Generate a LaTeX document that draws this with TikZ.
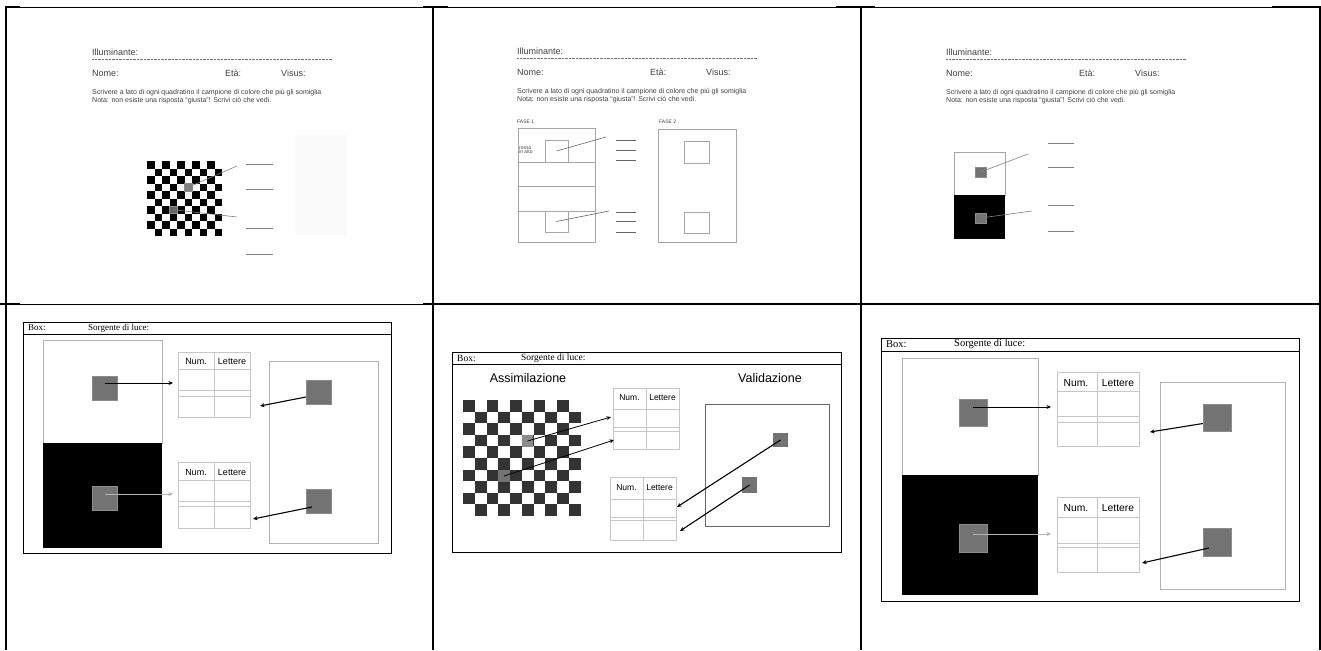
\documentclass[tikz,border=0pt]{standalone}
\usepackage{fontspec}
\setmainfont{Liberation Serif}
\setsansfont{Liberation Sans}
\usetikzlibrary{arrows.meta}
\definecolor{sqgray}{HTML}{737373}
\tikzset{
  formtxt/.style={anchor=west, inner sep=0pt, text=black!75,
                  font=\sffamily\fontsize{9}{10}\selectfont},
  notetxt/.style={formtxt, font=\sffamily\fontsize{7}{8}\selectfont},
  fasetxt/.style={formtxt, font=\sffamily\fontsize{5}{5}\selectfont},
  boxtxt/.style={anchor=west, inner sep=0pt, font=\rmfamily\fontsize{9}{10}\selectfont},
  tabtxt/.style={inner sep=0pt, font=\sffamily\fontsize{9}{10}\selectfont},
  titletxt/.style={inner sep=0pt, font=\sffamily\fontsize{12.5}{14}\selectfont},
  dotline/.style={black!55, line width=0.4pt, dash pattern=on 0.8pt off 0.6pt},
  hint/.style={black!50, line width=0.6pt},
  ansline/.style={black!50, line width=0.6pt},
  thinbox/.style={draw=black!35, line width=0.5pt},
  tabline/.style={draw=black!22, line width=0.6pt},
  gsq/.style={rectangle, fill=sqgray, draw=black!45, line width=0.2pt, inner sep=0pt},
  pipe/.style={-{Stealth[length=4.5pt, width=4pt]}, line width=0.8pt, draw=black},
  pipelight/.style={pipe, draw=black!30},
  slant/.style={pipe, line width=1.1pt},
}
\newcommand{\formhead}[3]{%
  \node[formtxt] (#1ill) at (#2,#3) {Illuminante:};
  \draw[dotline] (#2,#3+7.5) -- (#2+240,#3+7.5);
  \node[formtxt] (#1nome) at (#2,#3+21.5) {Nome:};
  \node[formtxt] (#1eta) at (#2+133,#3+21.5) {Età:};
  \node[formtxt] (#1vis) at (#2+189,#3+21.5) {Visus:};
  \node[notetxt] (#1scr) at (#2,#3+41) {Scrivere a lato di ogni quadratino il campione di colore che più gli somiglia};
  \node[notetxt] (#1nota) at (#2,#3+49) {Nota: non esiste una risposta “giusta”! Scrivi ciò che vedi.};
}

\begin{document}
\begin{tikzpicture}[x=1pt, y=-1pt]
    \useasboundingbox (0,0) rectangle (1321,650);

    % table rules
    \draw[line width=0.7pt] (6,7) -- (1320,7);
    \draw[line width=0.7pt] (6,304) -- (1320,304);
    \foreach \a/\b in {6/20, 423/448, 836/875, 1272/1320}
      \draw[line width=2pt] (\a,7) -- (\b,7);
    \draw[line width=2pt] (0,304) -- (20,304);
    \draw[line width=2pt] (423,304) -- (1321,304);
    \foreach \x in {6,433,861,1320}
      \draw[line width=2pt] (\x,6) -- (\x,650);

    % ---- sheet 1: checkerboard
    \formhead{fa}{92}{52}
    \fill[black!2] (295,135) rectangle (347,235);
    \foreach \r in {0,...,9} {
      \foreach \c in {0,...,9} {
        \pgfmathtruncatemacro\odd{mod(\r+\c,2)}
        \ifnum\odd=0 \fill (147+\c*7.5,161+\r*7.5) rectangle ++(7.5,7.5); \fi
      }
    }
    \node[gsq, fill=black!50, minimum size=7.5pt] (a1) at (188.25,187.25) {};
    \node[gsq, fill=black!60, minimum size=7.5pt] (a2) at (173.25,209.75) {};
    \coordinate (a1e) at (237,166);
    \coordinate (a2e) at (237,217);
    \draw[hint] (a1.center) -- (a1e);
    \draw[hint] (a2.center) -- (a2e);
    \foreach \y in {164,189,228,254}
      \draw[ansline] (246,\y) -- (273,\y);

    % ---- sheet 2: fase 1 / fase 2
    \formhead{fb}{517}{51}
    \node[fasetxt] (f1) at (517,122) {FASE 1};
    \node[fasetxt] (f2) at (659,122) {FASE 2};
    \draw[thinbox] (518,128) rectangle (595,242);
    \foreach \y in {162,186,211}
      \draw[thinbox] (518,\y) -- (595,\y);
    \node[rectangle, thinbox, minimum width=23pt, minimum height=22pt, inner sep=0pt] (b1) at (556.5,151) {};
    \node[rectangle, thinbox, minimum width=23pt, minimum height=21pt, inner sep=0pt] (b2) at (556.5,221.5) {};
    \node[fasetxt, align=left, font=\sffamily\fontsize{5}{4}\selectfont] (rosso) at (519,150) {rosso\\in alto};
    \coordinate (b1e) at (606,137);
    \coordinate (b2e) at (609,211);
    \draw[hint, black!60] (b1.center) -- (b1e);
    \draw[hint, black!60] (b2.center) -- (b2e);
    \foreach \y in {140,150,160,212,221,232}
      \draw[ansline, black!60] (616,\y) -- (636,\y);
    \draw[thinbox] (658,129) rectangle (736,242);
    \node[rectangle, thinbox, minimum width=25pt, minimum height=22pt, inner sep=0pt] (b3) at (696.5,152) {};
    \node[rectangle, thinbox, minimum width=25pt, minimum height=21pt, inner sep=0pt] (b4) at (696.5,222.5) {};

    % ---- sheet 3: white / black
    \formhead{fc}{946}{52}
    \draw[thinbox] (954,152) rectangle (1005,195);
    \fill[black] (954,195) rectangle (1005,239);
    \node[gsq, minimum width=11pt, minimum height=10pt] (k1) at (980.5,172) {};
    \node[gsq, minimum width=11pt, minimum height=10pt] (k2) at (980.5,218) {};
    \coordinate (k1e) at (1028,154);
    \coordinate (k2e) at (1032,211);
    \draw[hint] (k1.center) -- (k1e);
    \draw[hint] (k2.center) -- (k2e);
    \foreach \y in {143,167,205,231}
      \draw[ansline] (1048,\y) -- (1074,\y);

    % ---- box 1
    \draw[line width=0.8pt] (23,322) rectangle (391,553);
    \draw[line width=0.8pt] (23,334) -- (391,334);
    \node[boxtxt] (bx1) at (28,328) {Box:};
    \node[boxtxt] (sl1) at (88,328) {Sorgente di luce:};
    \draw[thinbox, draw=black!30] (43,340) rectangle (162,443);
    \fill[black] (43,443) rectangle (162,548);
    \draw[thinbox, draw=black!30] (269,361) rectangle (378,543);
    \node[gsq, minimum width=25pt, minimum height=24pt] (s1) at (104.5,388) {};
    \node[gsq, minimum width=25pt, minimum height=24pt] (s2) at (104.5,498) {};
    \node[gsq, minimum width=25pt, minimum height=24pt] (s3) at (318.5,392) {};
    \node[gsq, minimum width=25pt, minimum height=24pt] (s4) at (318.5,501) {};
    \draw[tabline] (178,352) rectangle (250,417) (214,352) -- (214,417);
    \foreach \y in {369,390,396}
      \draw[tabline] (178,\y) -- (250,\y);
    \node[tabtxt] (n1) at (196,361) {Num.};
    \node[tabtxt] (l1) at (232,361) {Lettere};
    \draw[tabline] (178,462) rectangle (250,528) (214,462) -- (214,528);
    \foreach \y in {480,501,506}
      \draw[tabline] (178,\y) -- (250,\y);
    \node[tabtxt] (n2) at (196,472) {Num.};
    \node[tabtxt] (l2) at (232,472) {Lettere};
    \coordinate (s1e) at (173,383);
    \coordinate (s2e) at (173,494);
    \coordinate (s3e) at (260,406);
    \coordinate (s4e) at (253,519);
    \draw[pipe] (s1 |- s1e) -- (s1e);
    \draw[pipelight] (s2 |- s2e) -- (s2e);
    \draw[slant] ([yshift=-5pt]s3.west) -- (s3e);
    \draw[slant] ([xshift=6pt, yshift=-6pt]s4.west) -- (s4e);

    % ---- box 2: assimilazione / validazione
    \draw[line width=0.8pt] (452,352) rectangle (841,552);
    \draw[line width=0.8pt] (452,364) -- (841,364);
    \node[boxtxt, font=\rmfamily\fontsize{9.5}{10}\selectfont] (bx2) at (457,358) {Box:};
    \node[boxtxt, font=\rmfamily\fontsize{9.5}{10}\selectfont] (sl2) at (521,358) {Sorgente di luce:};
    \node[titletxt] (assim) at (528,378) {Assimilazione};
    \node[titletxt] (valid) at (770,378) {Validazione};
    \foreach \r in {0,...,9} {
      \foreach \c in {0,...,9} {
        \pgfmathtruncatemacro\odd{mod(\r+\c,2)}
        \ifnum\odd=0 \fill[black!80] (463+\c*11.75,400+\r*11.6) rectangle ++(11.75,11.6); \fi
      }
    }
    \node[gsq, fill=black!45, draw=none, minimum width=11.75pt, minimum height=11.6pt] (g1) at (527.6,441) {};
    \node[gsq, fill=black!55, draw=none, minimum width=11.75pt, minimum height=11.6pt] (g2) at (504.1,476) {};
    \draw[tabline] (613,388) rectangle (679,449) (646,388) -- (646,449);
    \foreach \y in {409,427,431}
      \draw[tabline] (613,\y) -- (679,\y);
    \node[tabtxt, font=\sffamily\fontsize{8.5}{9}\selectfont] (n3) at (629.5,398) {Num.};
    \node[tabtxt, font=\sffamily\fontsize{8.5}{9}\selectfont] (l3) at (662.5,398) {Lettere};
    \draw[tabline] (610,477) rectangle (676,540) (643,477) -- (643,540);
    \foreach \y in {499,517,520}
      \draw[tabline] (610,\y) -- (676,\y);
    \node[tabtxt, font=\sffamily\fontsize{8.5}{9}\selectfont] (n4) at (626.5,488) {Num.};
    \node[tabtxt, font=\sffamily\fontsize{8.5}{9}\selectfont] (l4) at (659.5,488) {Lettere};
    \draw[draw=black!60, line width=0.7pt] (705,404) rectangle (829,526);
    \node[gsq, draw=none, minimum width=15pt, minimum height=14pt] (c3) at (780.5,440) {};
    \node[gsq, draw=none, minimum width=15pt, minimum height=16pt] (c4) at (749.5,485) {};
    \coordinate (g1e) at (611,417);
    \coordinate (g2e) at (614,440);
    \coordinate (c3e) at (677,507);
    \coordinate (c4e) at (680,531);
    \draw[pipe] (g1.center) -- (g1e);
    \draw[pipe] (g2.center) -- (g2e);
    \draw[slant] (c3.center) -- (c3e);
    \draw[slant] (c4.center) -- (c4e);

    % ---- box 3
    \draw[line width=0.8pt] (881,338) rectangle (1299,601);
    \draw[line width=0.8pt] (881,351) -- (1299,351);
    \node[boxtxt, font=\rmfamily\fontsize{10.5}{11}\selectfont] (bx3) at (886,344) {Box:};
    \node[boxtxt, font=\rmfamily\fontsize{10.5}{11}\selectfont] (sl3) at (954,344) {Sorgente di luce:};
    \draw[thinbox, draw=black!30] (902,358) rectangle (1038,475);
    \fill[black] (902,475) rectangle (1038,595);
    \draw[thinbox, draw=black!30] (1160,382) rectangle (1285,589);
    \node[gsq, minimum width=28pt, minimum height=27pt] (r1) at (973,412.5) {};
    \node[gsq, minimum width=28pt, minimum height=28pt] (r2) at (973,538) {};
    \node[gsq, minimum width=28pt, minimum height=27pt] (r3) at (1217,417.5) {};
    \node[gsq, minimum width=28pt, minimum height=28pt] (r4) at (1217,542) {};
    \draw[tabline] (1057,372) rectangle (1139,446) (1097,372) -- (1097,446);
    \foreach \y in {391,416,422}
      \draw[tabline] (1057,\y) -- (1139,\y);
    \node[tabtxt, font=\sffamily\fontsize{10.3}{11}\selectfont] (n5) at (1076,383) {Num.};
    \node[tabtxt, font=\sffamily\fontsize{10.3}{11}\selectfont] (l5) at (1118,383) {Lettere};
    \draw[tabline] (1057,497) rectangle (1139,572) (1097,497) -- (1097,572);
    \foreach \y in {517,543,547}
      \draw[tabline] (1057,\y) -- (1139,\y);
    \node[tabtxt, font=\sffamily\fontsize{10.3}{11}\selectfont] (n6) at (1076,508) {Num.};
    \node[tabtxt, font=\sffamily\fontsize{10.3}{11}\selectfont] (l6) at (1118,508) {Lettere};
    \coordinate (r1e) at (1051,407);
    \coordinate (r2e) at (1051,534);
    \coordinate (r3e) at (1150,432);
    \coordinate (r4e) at (1142,563);
    \draw[pipe] (r1 |- r1e) -- (r1e);
    \draw[pipelight] (r2 |- r2e) -- (r2e);
    \draw[slant] ([yshift=-6pt]r3.west) -- (r3e);
    \draw[slant] ([xshift=6pt, yshift=-6pt]r4.west) -- (r4e);
\end{tikzpicture}
\end{document}
